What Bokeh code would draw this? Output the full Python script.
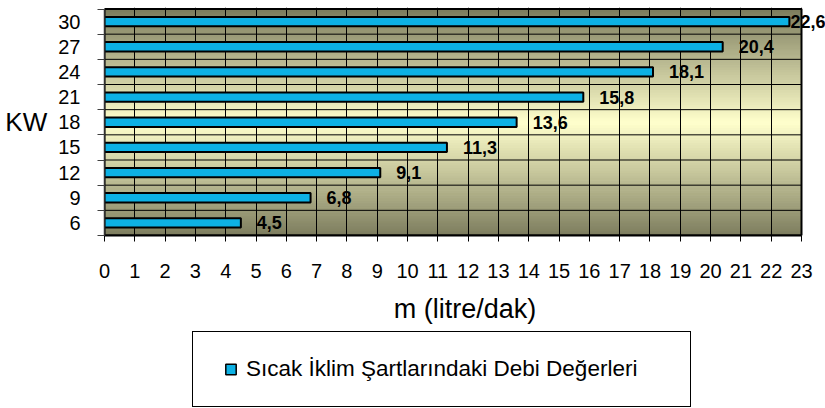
import numpy as np
from bokeh.plotting import figure
from bokeh.layouts import column
from bokeh.core.properties import value
from bokeh.models import (Range1d, FixedTicker, ColumnDataSource, LabelSet,
                          Legend, LegendItem)
from bokeh.embed import file_html
from bokeh.resources import INLINE

# ---- data ----
categories = ["6", "9", "12", "15", "18", "21", "24", "27", "30"]
values = [4.5, 6.8, 9.1, 11.3, 13.6, 15.8, 18.1, 20.4, 22.6]
x_ticks = list(range(0, 24))
series_name = "Sıcak İklim Şartlarındaki Debi Değerleri"
x_title = "m (litre/dak)"
y_title = "KW"

# ---- layout ----
W, H1, H2 = 825, 328, 80
BL, BR, BT, BB = 104, 0, 7, 93
PLOT_W = 697          # width of the drawn plot area (0..X_MAX)
X_MAX = x_ticks[-1]
FONT = "Liberation Sans"
BAR_COLOR = "#0db1e4"
n = len(categories)
frame_w = W - BL - BR
x_end = X_MAX * frame_w / PLOT_W
ppu = PLOT_W / X_MAX
frame_h = H1 - BT - BB
ppy = (frame_h - 1.5) / n
y_top = n - 0.5 + 1.5 / ppy

p = figure(width=W, height=H1, output_backend="svg", toolbar_location=None,
           x_range=Range1d(0, x_end), y_range=Range1d(-0.5, y_top),
           min_border_left=BL, min_border_right=BR, min_border_top=BT,
           min_border_bottom=BB)
p.background_fill_color = "white"
p.border_fill_color = "white"
p.outline_line_color = None

# background gradient (dark olive at edges -> light yellow in the middle)
N = 90
edges = np.linspace(-0.5, n - 0.5, N + 1)
mid = (n - 1) / 2
dark = np.array([0x7d, 0x7d, 0x5e], dtype=float)
light = np.array([0xff, 0xff, 0xcc], dtype=float)
cols = []
for a, b in zip(edges[:-1], edges[1:]):
    t = min(1.0, abs((a + b) / 2 - mid) / (n / 2))
    c = light + (dark - light) * t
    cols.append("#%02x%02x%02x" % tuple(int(round(v)) for v in c))
p.quad(left=0, right=X_MAX, bottom=edges[:-1], top=edges[1:],
       fill_color=cols, line_color=cols, line_width=1, level="image")

# horizontal band lines between categories
bounds = [i - 0.5 for i in range(n + 1)]
p.segment(x0=0, x1=X_MAX, y0=bounds, y1=bounds, line_color="black",
          line_width=1, level="underlay")
# plot-area border
p.quad(left=0, right=X_MAX, bottom=-0.5, top=n - 0.5, fill_color=None,
       line_color="black", line_width=2, level="underlay")

# bars
lab_w = 38
offs = [16 if (v * ppu + 16 + lab_w) <= frame_w else 1 for v in values]
src = ColumnDataSource(dict(
    y=list(range(n)), v=values,
    label=[("%.1f" % v).replace(".", ",") for v in values],
    off=offs))
p.hbar(y="y", left=0, right="v", height=0.37, source=src,
       fill_color=BAR_COLOR, line_color="black", line_width=2)

labels = LabelSet(x="v", y="y", text="label", x_offset="off", source=src,
                  text_font=value(FONT), text_font_size=value("18px"),
                  text_font_style=value("bold"),
                  text_baseline=value("middle"), text_align=value("left"),
                  text_color=value("black"))
p.add_layout(labels)

# x axis
p.xaxis.ticker = FixedTicker(ticks=x_ticks)
p.xaxis.bounds = (0, X_MAX)
p.xgrid.ticker = FixedTicker(ticks=x_ticks)
p.xgrid.grid_line_color = "black"
p.xgrid.grid_line_width = 1
p.xaxis.axis_label = x_title
p.xaxis.axis_label_text_font = FONT
p.xaxis.axis_label_text_font_size = "27px"
p.xaxis.axis_label_text_font_style = "normal"
p.xaxis.axis_label_text_color = "black"
p.xaxis.axis_label_standoff = 13
p.xaxis.major_label_text_font = FONT
p.xaxis.major_label_text_font_size = "20px"
p.xaxis.major_label_text_color = "black"
p.xaxis.major_label_standoff = 22
p.xaxis.major_tick_out = 6
p.xaxis.major_tick_in = 0
p.xaxis.minor_tick_line_color = None
p.xaxis.axis_line_color = "black"
p.xaxis.axis_line_width = 2
p.xaxis.major_tick_line_color = "black"

# y axis
p.yaxis.ticker = FixedTicker(ticks=list(range(n)), minor_ticks=bounds)
p.yaxis.major_label_overrides = {i: c for i, c in enumerate(categories)}
p.yaxis.major_label_text_font = FONT
p.yaxis.major_label_text_font_size = "20px"
p.yaxis.major_label_text_color = "black"
p.yaxis.major_tick_out = 0
p.yaxis.major_tick_in = 0
p.yaxis.major_tick_line_color = None
p.yaxis.minor_tick_out = 7
p.yaxis.minor_tick_in = 0
p.yaxis.minor_tick_line_color = "#404040"
p.yaxis.major_label_standoff = 17
p.yaxis.axis_line_color = "#303030"
p.yaxis.axis_line_width = 1.5
p.yaxis.bounds = (-0.5, n - 0.5)
p.yaxis.axis_label = y_title
p.yaxis.axis_label_text_font = FONT
p.yaxis.axis_label_text_font_size = "26px"
p.yaxis.axis_label_text_font_style = "normal"
p.yaxis.axis_label_text_color = "black"
p.yaxis.axis_label_standoff = 8
p.yaxis.axis_label_orientation = "horizontal"
p.ygrid.visible = False

# legend, in a strip below the chart (proxy glyph reads the same data,
# but this strip's y range lies outside it, so only the legend shows)
p2 = figure(width=W, height=H2, output_backend="svg", toolbar_location=None,
            x_range=Range1d(0, X_MAX), y_range=Range1d(n, n + 1),
            x_axis_location=None, y_axis_location=None,
            min_border_left=BL, min_border_right=BR, min_border_top=0,
            min_border_bottom=0)
p2.grid.visible = False
p2.outline_line_color = None
p2.background_fill_color = "white"
p2.border_fill_color = "white"
proxy = p2.scatter(x="v", y="y", source=src, marker="square",
                   fill_color=BAR_COLOR, line_color="black", line_width=1.5)
legend = Legend(items=[LegendItem(label=series_name, renderers=[proxy])],
                location=(88, 1), padding=24, margin=0, spacing=0,
                glyph_width=27, glyph_height=26, label_standoff=2,
                label_width=420, label_height=26,
                label_text_font=FONT, label_text_font_size="22.5px",
                label_text_color="black",
                border_line_color="black", border_line_width=1.5,
                border_line_alpha=1.0,
                background_fill_color="white", background_fill_alpha=1)
p2.add_layout(legend, "center")

open("out.html", "w").write(file_html(column(p, p2, spacing=0), INLINE))
